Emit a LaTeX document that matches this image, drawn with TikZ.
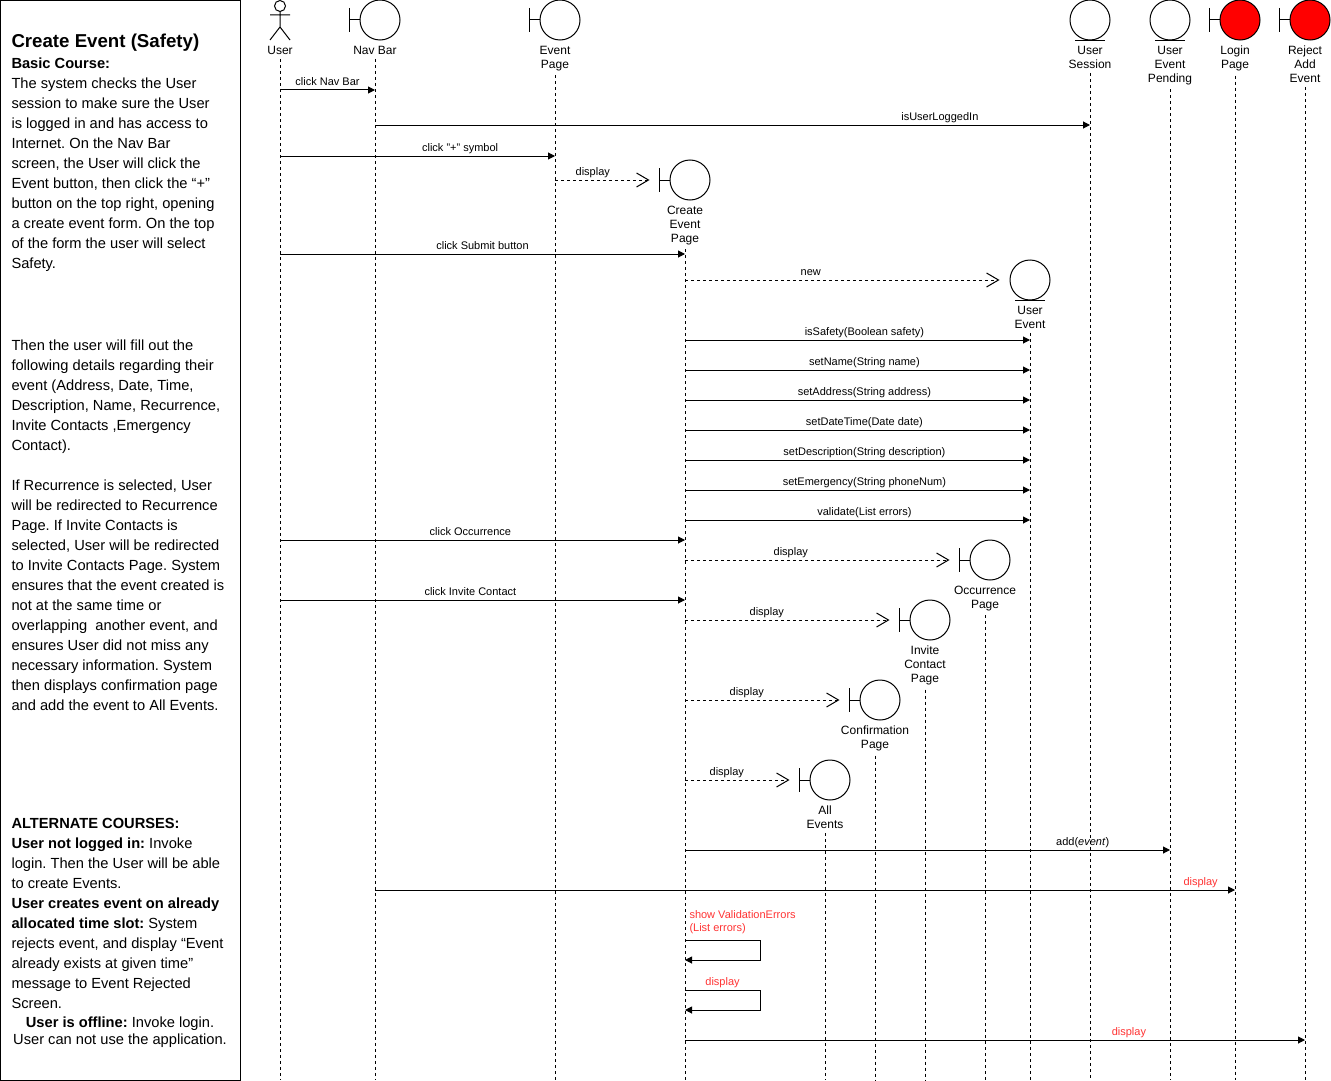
\documentclass[tikz,border=0pt]{standalone}
\usepackage{fontspec}
\setmainfont{Liberation Sans}
\usetikzlibrary{arrows.meta}
\definecolor{errred}{HTML}{FF3333}
\definecolor{pagered}{HTML}{FF0000}
\frenchspacing
\def \msgfont {\fontsize{8.25pt}{9.75pt}\selectfont}
\def \lblfont {\fontsize{9pt}{10.5pt}\selectfont}
\def \txtfont {\fontsize{11pt}{15pt}\selectfont}
% boundary: name, lifeline x, centre y, fill, label
\newcommand{\boundaryobj}[5]{%
  \node (#1c) [headc,fill=#4] at (#2+5,#3) {};
  \draw (#1c.west) -- ++(-10,0) ++(0,-12) -- ++(0,24);
  \node (#1) [lbl] at (#2,#3+25.5) {#5};
  \draw [life] (#1) -- (#1 |- bottom);
}
% entity: name, lifeline x, centre y, label
\newcommand{\entityobj}[4]{%
  \node (#1c) [headc] at (#2,#3) {};
  \draw ([xshift=-11.25pt]#1c.south) -- ([xshift=11.25pt]#1c.south);
  \node (#1) [lbl] at (#2,#3+25.5) {#4};
  \draw [life] (#1) -- (#1 |- bottom);
}
\begin{document}
\begin{tikzpicture}[x=0.75pt,y=-0.75pt,line width=0.75pt]
\tikzstyle{headc}=[circle,draw,minimum size=30pt,inner sep=0pt];
\tikzstyle{lbl}=[anchor=north,align=center,inner sep=0pt,font=\lblfont];
\tikzstyle{life}=[dash pattern=on 2.25pt off 2.25pt,shorten <=3pt];
\tikzstyle{msg}=[-{Triangle[length=5.25pt,width=5.25pt]}];
\tikzstyle{ret}=[dash pattern=on 2.25pt off 2.25pt,-{Straight Barb[length=9pt,width=10.5pt]}];
\tikzstyle{mlbl}=[above=3pt,inner sep=0pt,text depth=0pt,font=\msgfont];
\tikzstyle{note}=[anchor=north west,align=left,inner sep=0pt,font=\txtfont];
\useasboundingbox (0,0) rectangle (1331,1081);
\coordinate (bottom) at (0,1080);

% use case description
\draw (0.5,0.5) rectangle (240,1080);
\node (title) [note,font=\fontsize{14pt}{16pt}\selectfont\bfseries] at (11,33) {Create Event (Safety)};
\node (basic) [note] at (11,57) {\textbf{Basic Course:}\\
The system checks the User\\
session to make sure the User\\
is logged in and has access to\\
Internet. On the Nav Bar\\
screen, the User will click the\\
Event button, then click the “+”\\
button on the top right, opening\\
a create event form. On the top\\
of the form the user will select\\
Safety.};
\node (details) [note] at (11,339) {Then the user will fill out the\\
following details regarding their\\
event (Address, Date, Time,\\
Description, Name, Recurrence,\\
Invite Contacts ,Emergency\\
Contact).};
\node (recur) [note] at (11,479) {If Recurrence is selected, User\\
will be redirected to Recurrence\\
Page. If Invite Contacts is\\
selected, User will be redirected\\
to Invite Contacts Page. System\\
ensures that the event created is\\
not at the same time or\\
overlapping\ \ another event, and\\
ensures User did not miss any\\
necessary information. System\\
then displays confirmation page\\
and add the event to All Events.};
\node (alt) [note] at (11,818) {\textbf{ALTERNATE COURSES:}\\
\textbf{User not logged in:} Invoke\\
login. Then the User will be able\\
to create Events.\\
\textbf{User creates event on already}\\
\textbf{allocated time slot:} System\\
rejects event, and display “Event\\
already exists at given time”\\
message to Event Rejected\\
Screen.};
\node (offline) [note,anchor=north,align=center,font=\fontsize{11pt}{12.75pt}\selectfont] at (120,1016) {\textbf{User is offline:} Invoke login.\\
User can not use the application.};

% actor
\draw (280,6) circle (4.125pt);
\draw (280,11.5) -- (280,27) (270,15) -- (290,15) (270,40) -- (280,27) -- (290,40);
\node (user) [lbl] at (280,45.5) {User};
\draw [life] (user) -- (user |- bottom);

% lifelines
\boundaryobj{navbar}{375}{20}{white}{Nav Bar}
\boundaryobj{evpage}{555}{20}{white}{Event\\Page}
\boundaryobj{cep}{685}{180}{white}{Create\\Event\\Page}
\entityobj{uevent}{1030}{280}{User\\Event}
\boundaryobj{occ}{985}{560}{white}{Occurrence\\Page}
\boundaryobj{invite}{925}{620}{white}{Invite\\Contact\\Page}
\boundaryobj{confirm}{875}{700}{white}{Confirmation\\Page}
\boundaryobj{allev}{825}{780}{white}{All\\Events}
\entityobj{session}{1090}{20}{User\\Session}
\entityobj{pending}{1170}{20}{User\\Event\\Pending}
\boundaryobj{login}{1235}{20}{pagered}{Login\\Page}
\boundaryobj{reject}{1305}{20}{pagered}{Reject\\Add\\Event}

% messages
\draw [msg] (user |- 0,90) -- node[mlbl]{click Nav Bar} (navbar |- 0,90);
\draw [msg] (navbar |- 0,125) -- node[mlbl,pos=0.79]{isUserLoggedIn} (session |- 0,125);
\draw [msg] (user |- 0,156) -- node[mlbl,pos=0.655]{click "+" symbol} (evpage |- 0,156);
\draw [ret] (evpage |- cepc) -- node[mlbl,pos=0.4]{display} ([xshift=-15pt]cepc.west);
\draw [msg] (user |- 0,254) -- node[mlbl]{click Submit button} (cep |- 0,254);
\draw [ret] (cep |- ueventc) -- node[mlbl,pos=0.4]{new} ([xshift=-7.5pt]ueventc.west);
\foreach \y/\t in {340/isSafety(Boolean safety), 370/setName(String name),
  400/setAddress(String address), 430/setDateTime(Date date),
  460/setDescription(String description), 490/setEmergency(String phoneNum),
  520/validate(List errors)}
  \draw [msg] (cep |- 0,\y) -- node[mlbl,pos=0.52]{\t} (uevent |- 0,\y);
\draw [msg] (user |- 0,540) -- node[mlbl,pos=0.47]{click Occurrence} (cep |- 0,540);
\draw [ret] (cep |- occc) -- node[mlbl,pos=0.4]{display} ([xshift=-15pt]occc.west);
\draw [msg] (user |- 0,600) -- node[mlbl,pos=0.47]{click Invite Contact} (cep |- 0,600);
\draw [ret] (cep |- invitec) -- node[mlbl,pos=0.4]{display} ([xshift=-15pt]invitec.west);
\draw [ret] (cep |- confirmc) -- node[mlbl,pos=0.4]{display} ([xshift=-15pt]confirmc.west);
\draw [ret] (cep |- allevc) -- node[mlbl,pos=0.4]{display} ([xshift=-15pt]allevc.west);
\draw [msg] (cep |- 0,850) -- node[mlbl,pos=0.82]{add(\textit{event})} (pending |- 0,850);
\draw [msg] (navbar |- 0,890) -- node[mlbl,pos=0.96,text=errred]{display} (login |- 0,890);
\draw [msg] (cep |- 0,940) node[anchor=south west,xshift=3pt,yshift=4.25pt,align=left,inner sep=0pt,font=\msgfont,text=errred]{show ValidationErrors\\(List errors)}
  -- ++(75,0) -- ++(0,20) -- (cep |- 0,960);
\draw [msg] (cep |- 0,990) -- node[mlbl,text=errred]{display} ++(75,0) -- ++(0,20) -- (cep |- 0,1010);
\draw [msg] (cep |- 0,1040) -- node[mlbl,pos=0.716,text=errred]{display} (reject |- 0,1040);
\end{tikzpicture}
\end{document}
